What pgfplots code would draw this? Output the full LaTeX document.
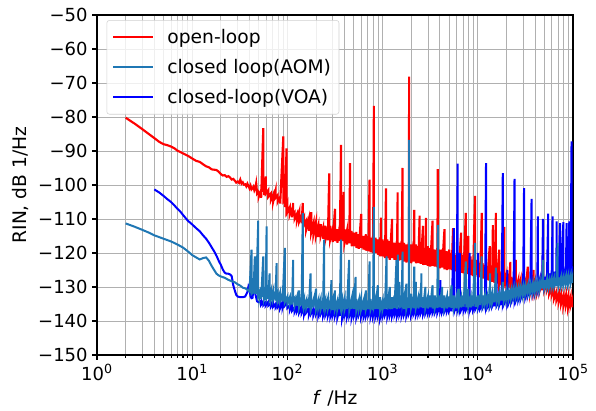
\documentclass[border=0pt]{standalone}
\usepackage{fontspec}
\setmainfont{DejaVu Sans}
\usepackage{pgfplots}
\pgfplotsset{compat=1.18}
\definecolor{tabblue}{HTML}{1F77B4}
\definecolor{gridgray}{HTML}{B0B0B0}
\begin{document}
\begin{tikzpicture}
\begin{axis}[
  xmode=log, scale only axis, width=357pt, height=255pt,
  xmin=1, xmax=100000, ymin=-150, ymax=-50,
  xtick={1,10,100,1000,10000,100000},
  xticklabels={10\textsuperscript{0},10\textsuperscript{1},10\textsuperscript{2},10\textsuperscript{3},10\textsuperscript{4},10\textsuperscript{5}},
  minor xtick={2,3,4,5,6,7,8,9,20,30,40,50,60,70,80,90,200,300,400,500,600,700,800,900,2000,3000,4000,5000,6000,7000,8000,9000,20000,30000,40000,50000,60000,70000,80000,90000},
  ytick={-150,-140,-130,-120,-110,-100,-90,-80,-70,-60,-50},
  yticklabels={−150,−140,−130,−120,−110,−100,−90,−80,−70,−60,−50},
  ticklabel style={font=\fontsize{13.5}{16}\selectfont},
  label style={font=\fontsize{14}{17}\selectfont},
  grid=both,
  major grid style={gridgray, line width=0.75pt},
  minor grid style={gridgray, line width=0.75pt},
  tick align=outside, major tick length=3.5pt, minor tick length=2pt,
  xtick pos=lower, ytick pos=left,
  axis line style={line width=0.8pt},
  every tick/.style={black, line width=0.8pt},
  xlabel={\textit{f} /Hz}, ylabel={RIN, dB 1/Hz},
  legend style={at={(0.02,0.985)}, anchor=north west, draw=black!18, rounded corners=2pt, fill=white, fill opacity=0.8, text opacity=1, font=\fontsize{14}{17}\selectfont, inner xsep=4pt, inner ysep=4.5pt, row sep=6.5pt, /tikz/every odd column/.append style={column sep=8pt}},
  legend cell align=left,
  legend image code/.code={\draw[line width=1.5pt,#1] (0pt,0pt) -- (30pt,0pt);},
]
\addplot[red, line width=1.6pt, forget plot] coordinates {
(2,-80.2)(2.5,-82)(3,-83.6)(3.5,-85)(4,-86.2)(4.5,-87.3)(5,-88)(5.5,-88.3)(6,-88.7)(6.5,-89.2)(7,-89.9)(8,-90.7)(9,-91.4)(10,-92.2)(11,-92.9)(12,-93.2)(13,-93.9)(14,-94.5)(15,-94.8)(16,-95.4)(17,-95.5)(18,-95.6)(19,-96.1)(20,-96.8)(21,-97.2)(22,-97.1)(23,-97.6)(24,-97.4)(25,-97.8)(26,-98.4)(27,-98.2)(28,-98.7)(29,-99.3)(30,-99)(31,-99.4)(32,-98.4)(33,-99.6)(34,-99.2)(35,-99.9)(36,-99.8)(37,-100.4)(38,-99.6)(39,-100.3)(40,-101)(41,-100.2)(42,-101.3)(43,-101)(44,-100.5)(45,-101.6)(46,-101)(47,-99.5)(48,-102.3)(49,-101.8)
(50,-102.2)(50,-103.5)(53,-101.5)(53,-103.8)(55.8,-83.3)(55.8,-102)(57,-100.5)(57,-103)(59.5,-97.5)(59.5,-102.5)(63,-101.5)(63,-103.5)(67,-102.5)(67,-104.5)(71,-102.8)(71,-104.8)(75,-101.8)(75,-103.8)(79,-103)(79,-105)(84,-103.5)(84,-105.5)(90.6,-85.7)(90.6,-105)(94,-104.5)(94,-106.5)(98,-89.2)(98,-107)(100,-106)(100,-108)(106,-106.5)(106,-108.8)(112,-107)(112,-109.5)(115,-105.3)(115,-108.5)(119,-108)(119,-110)(126,-108.5)(126,-110.5)(133,-108)(133,-110.8)(141,-109)(141,-111.3)(145,-105.3)(145,-110)(150,-109.2)(150,-111.8)(158,-110.5)(158,-113)(168,-110)(168,-113.5)(178,-108)(178,-114)(188,-111.3)(188,-114.5)(200,-110.8)(200,-114.8)(211,-112)(211,-115.3)(224,-111.5)(224,-115)(237,-112.5)(237,-115.8)(251,-112)(251,-116)(266,-112.8)(266,-116.3)(275,-96.6)(275,-114)(282,-112)(282,-116)(299,-113)(299,-116.8)(316,-107)(316,-116.5)(335,-113)(335,-117)(355,-112)(355,-116.5)(366,-88.2)(366,-115)(376,-112.5)(376,-116.5)(390,-102)(390,-115)(398,-113)(398,-117)(422,-113.5)(422,-117.5)(447,-113)(447,-117.2)(455,-93.6)(455,-116)(473,-113.5)(473,-118)(501,-114)(501,-118)(531,-113.8)(531,-118.5)(562,-114.5)(562,-118.8)(596,-108.5)(596,-118.5)(631,-115)(631,-119)(668,-114.5)(668,-119.3)(708,-115)(708,-119.5)(730,-98.4)(730,-118)(750,-115.5)(750,-119.8)(794,-115)(794,-120)(810,-76.7)(810,-118)(841,-115.5)(841,-120)(891,-116)(891,-120.5)(944,-115.5)(944,-121)(960,-109.6)(960,-120)(1000,-116)(1000,-121)(1059,-116.5)(1059,-121.5)(1086,-101)(1086,-120)(1122,-116)(1122,-121.5)(1189,-116.5)(1189,-122)(1259,-110)(1259,-121.5)(1334,-117)(1334,-122)(1413,-116.5)(1413,-122)(1440,-102.2)(1440,-120)(1496,-117)(1496,-122.2)(1585,-116.5)(1585,-122)(1620,-95)(1620,-121)(1679,-117)(1679,-122.5)(1778,-117.5)(1778,-122.8)(1884,-117)(1884,-122.5)(1900,-68.1)(1900,-121)(1995,-117.5)(1995,-123)(2113,-117)(2113,-122.5)(2150,-107.3)(2150,-121)(2239,-117.5)(2239,-123)(2371,-118)(2371,-123)(2450,-109)(2450,-122)(2512,-117.5)(2512,-123.2)(2661,-112)(2661,-123.5)(2818,-118.5)(2818,-123.5)(2860,-109.7)(2860,-122)(2985,-118)(2985,-123.8)(3162,-118.5)(3162,-124)(3350,-110.5)(3350,-123.8)(3548,-119)(3548,-124)(3758,-118.5)(3758,-124.2)(3800,-95.3)(3800,-123)(3981,-119)(3981,-124.5)(4217,-119)(4217,-124.3)(4467,-113)(4467,-124.8)(4732,-119.5)(4732,-125)(5012,-119)(5012,-124.8)(5309,-120)(5309,-125)(5500,-112.7)(5500,-124)(5623,-120)(5623,-125.2)(5957,-120.5)(5957,-125.5)(6310,-120)(6310,-125.3)(6683,-114)(6683,-125.8)(7079,-120.5)(7079,-126)(7480,-108.2)(7480,-125)(7600,-121)(7600,-126)(7943,-115)(7943,-126.2)(8414,-121)(8414,-126.5)(8913,-122)(8913,-126.8)(9350,-103.2)(9350,-126)(9500,-122)(9500,-126.5)(10000,-122.5)(10000,-127)(10593,-123)(10593,-127.2)(11000,-108.2)(11000,-126.5)(11220,-123)(11220,-127.5)(11885,-123.5)(11885,-127.5)(12589,-124)(12589,-128)(13335,-118)(13335,-128.2)(14125,-124.5)(14125,-128.5)(14400,-111.8)(14400,-128)(14962,-125)(14962,-128.8)(15500,-108.2)(15500,-128)(15849,-125)(15849,-129)(16788,-119)(16788,-129.2)(17783,-126)(17783,-129.5)(18836,-126)(18836,-129.8)(19000,-112.3)(19000,-129)(19953,-126.5)(19953,-130)(21135,-127)(21135,-130.3)(22000,-122.6)(22000,-130)(22387,-127)(22387,-130.5)(23714,-127.5)(23714,-130.5)(25119,-122)(25119,-130.8)(26607,-128)(26607,-131)(28184,-128)(28184,-131.2)(29854,-128.5)(29854,-131.3)(31623,-128.5)(31623,-131.5)(33497,-124)(33497,-131.5)(35481,-129)(35481,-131.8)(37584,-128.5)(37584,-131.5)(38500,-125)(38500,-131)(39811,-129)(39811,-131.5)(42170,-128.5)(42170,-131.3)(44668,-128.5)(44668,-131)(47315,-128)(47315,-131)(48600,-120)(48600,-130.5)(50119,-128)(50119,-130.8)(53088,-128.5)(53088,-131.2)(56234,-129.5)(56234,-132)(59566,-130)(59566,-132.5)(63096,-130.5)(63096,-133.5)(66834,-131.5)(66834,-134)(70795,-132)(70795,-134.5)(74989,-132)(74989,-135)(79433,-132.5)(79433,-135.5)(84140,-132.5)(84140,-135.5)(89125,-132.5)(89125,-136)(94406,-133)(94406,-135.5)(100000,-133)(100000,-136)
};
\addplot[blue, line width=1.5pt, forget plot] coordinates {
(4,-101.3)(4.5,-102.2)(5,-103.2)(5.5,-104.2)(6,-105)(6.5,-106)(7,-107)(7.5,-107.8)(8,-108.8)(9,-110.5)(10,-111.6)(11,-112.7)(12,-113.6)(13,-114.8)(14,-115.8)(15,-117)(16,-118.3)(17,-119.5)(18,-120.8)(19,-122.3)(20,-123.5)(21,-124.9)(22,-125.8)(23,-126.1)(24,-126.1)(25,-126.3)(26,-126.8)(27,-129.5)(28,-131)(29,-132.3)(30,-132.8)(32,-133)(34,-133)(36,-132.8)(38,-131.5)(39,-129.8)(40,-130.5)(41,-132.8)(42,-133.3)(43,-133.2)(44,-130.5)(45,-126.5)(46,-132)(48,-134.2)(50,-134.5)
(53,-134)(53,-135.2)(56,-134.2)(56,-135.3)(59,-134.5)(59,-135.5)(63,-134.3)(63,-135.5)(67,-134.8)(67,-135.8)(71,-134.5)(71,-135.8)(75,-135)(75,-136)(79,-134.8)(79,-136)(84,-135)(84,-136.2)(89,-134.5)(89,-136)(94,-133.5)(94,-135.5)(100,-134.5)(100,-136.2)(106,-135.5)(106,-136.8)(112,-135)(112,-137)(119,-136)(119,-137.3)(126,-135.5)(126,-137.3)(133,-136)(133,-137.5)(141,-135.8)(141,-137.8)(150,-136.2)(150,-138)(158,-135.8)(158,-137.5)(168,-136.3)(168,-138.2)(178,-136)(178,-137.8)(188,-136.5)(188,-138.3)(200,-136.2)(200,-138)(211,-136.5)(211,-138.5)(224,-136)(224,-138)(237,-136.5)(237,-138.5)(251,-136.2)(251,-138.3)(266,-136.5)(266,-138.5)(282,-136)(282,-138.8)(299,-136.5)(299,-138.3)(316,-136.3)(316,-138.5)(335,-136)(335,-139)(355,-136.2)(355,-138.5)(360,-131.8)(360,-137.5)(376,-136.5)(376,-139.2)(398,-136)(398,-138.5)(422,-136.5)(422,-138.8)(447,-136)(447,-138.5)(473,-136.3)(473,-139)(501,-136)(501,-138.5)(531,-136.5)(531,-138.8)(562,-136)(562,-138.3)(596,-136.3)(596,-138.6)(631,-136)(631,-138.8)(668,-136.5)(668,-138.5)(708,-136)(708,-138.3)(750,-136.3)(750,-138.7)(794,-136)(794,-138.5)(841,-135.8)(841,-138.8)(891,-136.3)(891,-138.5)(944,-136)(944,-139)(1000,-136.2)(1000,-138.5)(1059,-136)(1059,-138.3)(1122,-136.5)(1122,-138.8)(1189,-136)(1189,-138.5)(1259,-136.3)(1259,-138.5)(1334,-136)(1334,-138.3)(1413,-136.3)(1413,-138.6)(1496,-136)(1496,-138.3)(1585,-136.2)(1585,-138.5)(1679,-136)(1679,-138.2)(1778,-136.3)(1778,-138.5)(1884,-136)(1884,-138)(1995,-136.2)(1995,-138.3)(2113,-136)(2113,-138)(2239,-136.2)(2239,-138.2)(2371,-136)(2371,-138)(2512,-135.8)(2512,-137.8)(2661,-136)(2661,-138)(2818,-135.8)(2818,-137.8)(2985,-136)(2985,-137.8)(3162,-135.8)(3162,-137.6)(3350,-135.8)(3350,-137.5)(3548,-135.5)(3548,-137.5)(3758,-135.8)(3758,-137.6)(3981,-135.5)(3981,-137.3)(4050,-128)(4050,-137)(4217,-135.5)(4217,-137.3)(4467,-135.3)(4467,-137.2)(4732,-135.5)(4732,-137.2)(5012,-135.3)(5012,-137)(5309,-135.5)(5309,-137.2)(5600,-112.7)(5600,-136.5)(5700,-135.3)(5700,-137)(5957,-135.3)(5957,-137)(6150,-93.7)(6150,-136.5)(6310,-135.3)(6310,-137)(6500,-120)(6500,-136.5)(6683,-135.2)(6683,-136.8)(7079,-135.3)(7079,-137)(7499,-135)(7499,-136.8)(7943,-135.2)(7943,-136.8)(8200,-120)(8200,-136.5)(8414,-135)(8414,-136.6)(8913,-135.2)(8913,-136.8)(9441,-135)(9441,-136.5)(10000,-135)(10000,-136.5)(10100,-120)(10100,-136.3)(10593,-134.8)(10593,-136.3)(11220,-134.8)(11220,-136.2)(11885,-134.7)(11885,-136.2)(12200,-93.6)(12200,-136)(12589,-134.5)(12589,-136)(13335,-134.5)(13335,-136)(14125,-134.3)(14125,-135.8)(14962,-134.2)(14962,-135.7)(15800,-126)(15800,-135.5)(16788,-134)(16788,-135.5)(17783,-133.8)(17783,-135.3)(18300,-96.5)(18300,-135)(18836,-133.5)(18836,-135)(19953,-133.3)(19953,-134.8)(20500,-125)(20500,-134.5)(21135,-133)(21135,-134.7)(22387,-132.8)(22387,-134.5)(23714,-132.5)(23714,-134.2)(24300,-98.2)(24300,-134)(25119,-132.2)(25119,-134)(26607,-132)(26607,-133.8)(28184,-131.5)(28184,-133.5)(29854,-131.2)(29854,-133.2)(30600,-100.9)(30600,-133)(31623,-131)(31623,-133)(33497,-130.5)(33497,-132.5)(35481,-130)(35481,-132.3)(36700,-104.1)(36700,-132)(37584,-129.5)(37584,-131.8)(39811,-129)(39811,-131.5)(42170,-128.5)(42170,-131)(42700,-109.2)(42700,-130.5)(44668,-128)(44668,-130.5)(47315,-127.5)(47315,-130)(48400,-110)(48400,-129.5)(50119,-127)(50119,-129.5)(53088,-126.5)(53088,-129)(54900,-108.4)(54900,-128.5)(56234,-126)(56234,-128.5)(59566,-125.8)(59566,-128.3)(61000,-109.2)(61000,-128)(63096,-125.5)(63096,-128)(66834,-125.3)(66834,-127.8)(67300,-110.7)(67300,-127.5)(70795,-125)(70795,-127.5)(73100,-111.2)(73100,-127.3)(74989,-124.8)(74989,-127.3)(79200,-110.9)(79200,-127.2)(79433,-124.6)(79433,-127.2)(84140,-124.5)(84140,-127)(85600,-111.2)(85600,-127)(89125,-124.3)(89125,-126.8)(91400,-110.7)(91400,-126.5)(94406,-124.2)(94406,-126.8)(96500,-87.2)(96500,-126.3)(100000,-124)(100000,-126.5)
};
\addplot[tabblue, line width=1.5pt, forget plot] coordinates {
(2,-111.3)(2.5,-112.3)(3,-113.2)(3.5,-114)(4,-114.8)(5,-115.8)(6,-116.6)(7,-117.5)(8,-118.4)(9,-119.5)(10,-120.6)(11,-121.3)(12,-121.9)(13,-121.5)(14,-121.3)(15,-122.3)(16,-123.8)(17,-125)(18,-126.1)(19,-126.6)(20,-126.9)(22,-127.3)(24,-127.9)(26,-128.3)(28,-128.6)(30,-129.2)(32,-129.6)(34,-130.2)(36,-130.4)(38,-130.8)(40,-131.3)(42,-119)(42,-132)(44,-131.5)(45.5,-121)(45.5,-131.8)(47,-131.8)(49.4,-110.5)(49.4,-132.5)(51,-131.5)(51,-133.3)(53,-131)(53,-133.5)(55.8,-121)(55.8,-133)(57,-130)(57,-133.2)(59,-131.5)(59,-133.8)(60.5,-112.2)(60.5,-133)(63,-131)(63,-133.5)(65,-126)(65,-133)(67,-131.5)(67,-133.8)(71,-131)(71,-133.5)(75,-131.5)(75,-134)(77,-123)(77,-133)(79,-132)(79,-134)(84,-131.5)(84,-134)(89,-132)(89,-134.3)(94,-118.5)(94,-134.5)(100,-132.8)(100,-134.8)(106,-133)(106,-135)(112,-133)(112,-135.2)(115,-122)(115,-134)(119,-133.3)(119,-135.5)(126,-133)(126,-135.5)(133,-131)(133,-135.8)(141,-133)(141,-135.5)(145,-108.3)(145,-135)(150,-133.5)(150,-136)(158,-134)(158,-136)(168,-133.5)(168,-136.2)(175,-126)(175,-135)(178,-134)(178,-136.3)(188,-133.8)(188,-136)(200,-130.5)(200,-136.5)(211,-134)(211,-136.3)(224,-133.5)(224,-136.5)(237,-134)(237,-136.5)(243,-116.1)(243,-135.5)(251,-134)(251,-136.3)(266,-133.5)(266,-136.5)(282,-134)(282,-136.5)(290,-128)(290,-135.5)(299,-134)(299,-136.8)(316,-131)(316,-136.5)(335,-134)(335,-136.5)(355,-133.5)(355,-136.6)(366,-116.1)(366,-135.5)(376,-134)(376,-136.5)(398,-133.5)(398,-136.7)(422,-134)(422,-136.5)(445,-122)(445,-135.5)(447,-134)(447,-136.8)(473,-133.5)(473,-136.5)(501,-130)(501,-136.5)(520,-127)(520,-135.5)(531,-133.5)(531,-136.8)(562,-134)(562,-136.5)(596,-133)(596,-136.5)(631,-134)(631,-136.8)(668,-131)(668,-136.5)(708,-134)(708,-136.6)(730,-122.5)(730,-135.5)(750,-133.5)(750,-136.5)(794,-134)(794,-136.8)(810,-106.4)(810,-135.5)(841,-133.5)(841,-136.5)(891,-129.5)(891,-136.5)(944,-133)(944,-136.7)(1000,-134)(1000,-136.5)(1059,-133.5)(1059,-136.5)(1100,-121)(1100,-135.5)(1122,-133)(1122,-136.6)(1189,-130)(1189,-136.5)(1259,-133)(1259,-136.5)(1334,-132.5)(1334,-136.2)(1400,-122)(1400,-135.5)(1413,-133.5)(1413,-136.5)(1450,-120.5)(1450,-135.5)(1496,-128.5)(1496,-136.3)(1585,-132.5)(1585,-136)(1620,-119.6)(1620,-135)(1679,-133)(1679,-136.5)(1778,-129)(1778,-136.3)(1884,-133)(1884,-136.2)(1900,-86.7)(1900,-135)(1995,-132)(1995,-136)(2113,-133)(2113,-136.3)(2150,-124)(2150,-135.5)(2239,-128.5)(2239,-136)(2371,-133)(2371,-136.3)(2512,-132)(2512,-136)(2560,-126)(2560,-135.5)(2661,-133)(2661,-136.2)(2818,-130)(2818,-136)(2985,-133)(2985,-136.3)(3162,-132.5)(3162,-136)(3350,-129.5)(3350,-136.3)(3548,-132.5)(3548,-136)(3758,-133)(3758,-136.2)(3800,-111.7)(3800,-135.5)(3981,-132.5)(3981,-136)(4217,-130)(4217,-136.2)(4467,-132.5)(4467,-136)(4732,-133)(4732,-136.3)(5012,-132.8)(5012,-136)(5309,-129.5)(5309,-136.2)(5623,-132.5)(5623,-136)(5957,-133)(5957,-136.3)(6310,-130.5)(6310,-136)(6683,-133)(6683,-136)(7079,-132.5)(7079,-135.8)(7480,-122.5)(7480,-135)(7600,-133)(7600,-136)(7943,-130.5)(7943,-135.8)(8414,-133)(8414,-136)(8913,-132.5)(8913,-135.7)(9350,-117)(9350,-135)(9500,-133)(9500,-135.8)(10000,-132.5)(10000,-135.5)(10593,-132.5)(10593,-135.3)(11000,-121)(11000,-134.8)(11220,-132.5)(11220,-135.2)(11885,-132.3)(11885,-135)(12589,-132.5)(12589,-135)(13335,-132.2)(13335,-134.8)(13500,-126)(13500,-134.5)(14125,-132)(14125,-134.6)(14962,-132)(14962,-134.5)(15500,-124.3)(15500,-134)(15849,-131.8)(15849,-134.3)(16788,-131.5)(16788,-134.3)(17783,-131.5)(17783,-134)(18300,-128.5)(18300,-133.8)(18836,-131.3)(18836,-133.8)(19953,-131)(19953,-133.6)(21135,-131)(21135,-133.5)(22387,-130.8)(22387,-133.3)(23714,-130.5)(23714,-133)(25119,-130.5)(25119,-132.8)(26607,-130.2)(26607,-132.8)(28184,-130)(28184,-132.5)(29854,-129.8)(29854,-132.3)(31623,-129.5)(31623,-132)(33497,-129.5)(33497,-131.8)(35481,-129.2)(35481,-131.6)(37584,-129)(37584,-131.5)(39811,-128.8)(39811,-131.2)(42170,-128.5)(42170,-131)(44668,-128.5)(44668,-130.8)(47315,-128)(47315,-130.5)(48600,-122)(48600,-130)(50119,-128)(50119,-130.3)(53088,-127.8)(53088,-130.2)(56234,-127.8)(56234,-130)(59566,-127.5)(59566,-130)(63096,-127.5)(63096,-129.8)(66834,-127.3)(66834,-129.8)(69000,-117)(69000,-129.5)(70795,-127.2)(70795,-129.6)(74989,-127)(74989,-129.5)(79433,-127)(79433,-129.3)(84140,-126.8)(84140,-129.2)(89125,-126.5)(89125,-129)(94406,-126.5)(94406,-129)(100000,-126.3)(100000,-128.8)
};
\addlegendimage{red}
\addlegendentry{open-loop}
\addlegendimage{tabblue}
\addlegendentry{closed loop(AOM)}
\addlegendimage{blue}
\addlegendentry{closed-loop(VOA)}
\end{axis}
\path ([xshift=-72.75pt,yshift=-37.5pt]current axis.south west) rectangle ([xshift=17.25pt,yshift=11.25pt]current axis.north east);
\end{tikzpicture}
\end{document}
